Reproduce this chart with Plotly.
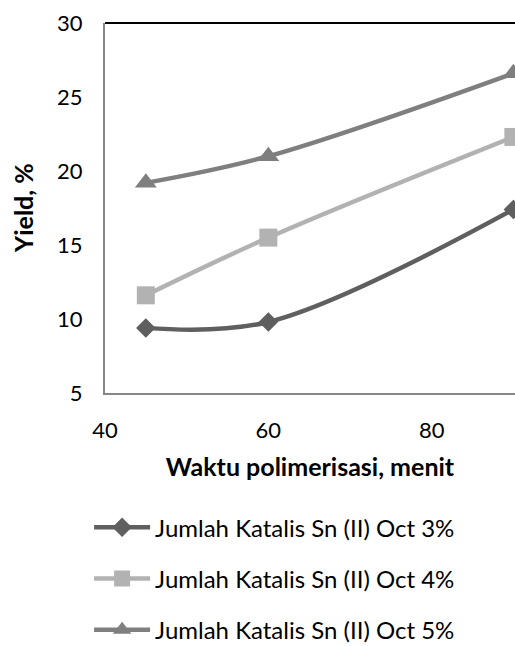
import plotly.graph_objects as go

time_min = [45, 60, 90]
yield_3 = [9.4, 9.8, 17.4]
yield_4 = [11.6, 15.5, 22.3]
yield_5 = [19.2, 21.0, 26.6]
series_names = [
    "Jumlah Katalis Sn (II) Oct 3%",
    "Jumlah Katalis Sn (II) Oct 4%",
    "Jumlah Katalis Sn (II) Oct 5%",
]
x_ticks = [40, 60, 80]
y_ticks = [5, 10, 15, 20, 25, 30]

FONT = "Lato, Carlito, Calibri, sans-serif"

styles = [
    dict(color="#5f5f5f", symbol="diamond", size=15),
    dict(color="#b2b2b2", symbol="square", size=18),
    dict(color="#7f7f7f", symbol="triangle-up", size=19),
]

fig = go.Figure()
for i, (ys, name, st) in enumerate(zip([yield_3, yield_4, yield_5], series_names, styles)):
    fig.add_trace(go.Scatter(
        x=time_min, y=ys, name=name, mode="lines+markers",
        line=dict(color=st["color"], width=4.5, shape="spline", smoothing=1),
        marker=dict(color=st["color"], symbol=st["symbol"], size=st["size"]),
        legendgroup=f"g{i}", cliponaxis=True,
    ))

fig.update_layout(
    width=515, height=646,
    margin=dict(l=105, r=0, t=23, b=253, autoexpand=False),
    paper_bgcolor="white", plot_bgcolor="white",
    font=dict(family=FONT, size=22, color="#000000"),
    showlegend=True,
    legend=dict(
        xref="container", yref="container",
        x=0.173, y=0.218, xanchor="left", yanchor="top",
        orientation="v", tracegroupgap=17, itemwidth=56,
        font=dict(family=FONT, size=24, color="#000000"),
        bgcolor="rgba(0,0,0,0)",
    ),
    xaxis=dict(
        range=[40, 90.2], tickvals=x_ticks, showgrid=False, zeroline=False,
        showline=True, linecolor="#878787", linewidth=2, ticks="",
        ticklabelstandoff=17,
        tickfont=dict(family=FONT, size=22),
        title=dict(text="<b>Waktu polimerisasi, menit</b>", standoff=16,
                   font=dict(family=FONT, size=25)),
    ),
    yaxis=dict(
        range=[5, 30], tickvals=y_ticks, showgrid=False, zeroline=False,
        showline=True, linecolor="#878787", linewidth=2, ticks="",
        ticklabelstandoff=16,
        tickfont=dict(family=FONT, size=22),
    ),
    annotations=[dict(text="<b>Yield, %</b>", xref="paper", yref="paper",
                      x=-0.2, y=0.5, xanchor="center", yanchor="middle",
                      textangle=-90, showarrow=False,
                      font=dict(family=FONT, size=25, color="#000000"))],
    shapes=[dict(type="line", xref="paper", yref="paper", x0=0, x1=1, y0=1, y1=1,
                 line=dict(color="#000000", width=2))],
)

fig.write_html("out.html", config={"displayModeBar": False},
               post_script="document.body.style.margin='0';document.body.style.overflow='hidden';")
